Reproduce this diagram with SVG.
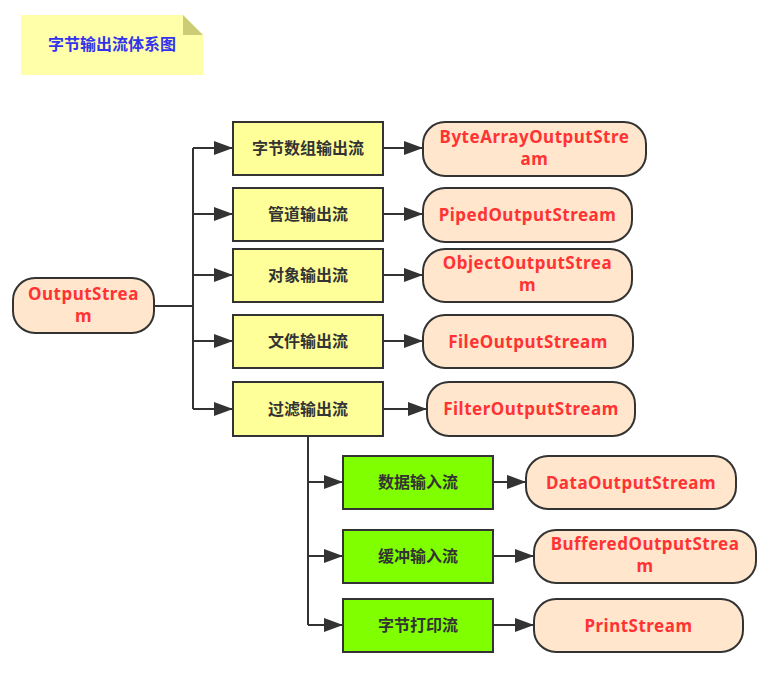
<svg xmlns="http://www.w3.org/2000/svg" width="778" height="681" viewBox="0 0 778 681">
<style>
.box{stroke:#333;stroke-width:2}
.yel{fill:#ffff99}
.grn{fill:#80ff00}
.org{fill:#ffe6cc}
.cn{font-family:"Noto Sans CJK SC","Noto Sans",sans-serif;font-weight:bold;font-size:16px;fill:#333;text-anchor:middle}
.en{font-family:"Noto Sans","Liberation Sans",sans-serif;font-weight:bold;font-size:17px;letter-spacing:0.5px;fill:#ff3333;text-anchor:middle}
.ln{fill:none;stroke:#333;stroke-width:2}
</style>
<defs>
<marker id="ah" markerUnits="userSpaceOnUse" markerWidth="20" markerHeight="14" refX="19" refY="7" orient="auto">
<path d="M0,0 L19,7 L0,14 Z" fill="#333"/>
</marker>
</defs>
<rect width="778" height="681" fill="#fff"/>
<g id="title">
<path d="M21,15 H183 L203,35 V75 H21 Z" fill="#ffffaa"/>
<path d="M183,15 L203,35 H183 Z" fill="#cccc77"/>
<text x="112" y="50" style="font-family:'Noto Sans CJK SC',sans-serif;font-weight:bold;font-size:16px;fill:#3333ee;text-anchor:middle">字节输出流体系图</text>
</g>
<g id="connectors">
<path class="ln" d="M154,306 H193"/>
<path class="ln" d="M193,148 V409"/>
<path class="ln" d="M193,148 H233" marker-end="url(#ah)"/>
<path class="ln" d="M193,214 H233" marker-end="url(#ah)"/>
<path class="ln" d="M193,275 H233" marker-end="url(#ah)"/>
<path class="ln" d="M193,341 H233" marker-end="url(#ah)"/>
<path class="ln" d="M193,409 H233" marker-end="url(#ah)"/>
<path class="ln" d="M383,148 H423" marker-end="url(#ah)"/>
<path class="ln" d="M383,214 H423" marker-end="url(#ah)"/>
<path class="ln" d="M383,275 H423" marker-end="url(#ah)"/>
<path class="ln" d="M383,341 H423" marker-end="url(#ah)"/>
<path class="ln" d="M383,409 H427" marker-end="url(#ah)"/>
<path class="ln" d="M308,436 V625"/>
<path class="ln" d="M308,482 H343" marker-end="url(#ah)"/>
<path class="ln" d="M308,556 H343" marker-end="url(#ah)"/>
<path class="ln" d="M308,625 H343" marker-end="url(#ah)"/>
<path class="ln" d="M493,482 H526" marker-end="url(#ah)"/>
<path class="ln" d="M493,556 H534" marker-end="url(#ah)"/>
<path class="ln" d="M493,625 H534" marker-end="url(#ah)"/>
</g>
<g id="root">
<rect class="box org" x="13" y="278" width="141" height="55" rx="22"/>
<text class="en" x="83.5" y="300">OutputStrea<tspan x="83.5" y="322">m</tspan></text>
</g>
<g id="n1">
<rect class="box yel" x="233" y="122" width="150" height="53"/>
<text class="cn" x="308" y="154">字节数组输出流</text>
</g>
<g id="n2">
<rect class="box yel" x="233" y="188" width="150" height="53"/>
<text class="cn" x="308" y="220">管道输出流</text>
</g>
<g id="n3">
<rect class="box yel" x="233" y="249" width="150" height="53"/>
<text class="cn" x="308" y="281">对象输出流</text>
</g>
<g id="n4">
<rect class="box yel" x="233" y="315" width="150" height="53"/>
<text class="cn" x="308" y="347">文件输出流</text>
</g>
<g id="n5">
<rect class="box yel" x="233" y="382" width="150" height="54"/>
<text class="cn" x="308" y="415">过滤输出流</text>
</g>
<g id="c1">
<rect class="box org" x="423" y="122" width="223" height="54" rx="22"/>
<text class="en" x="534.5" y="143">ByteArrayOutputStre<tspan x="534.5" y="165">am</tspan></text>
</g>
<g id="c2">
<rect class="box org" x="423" y="188" width="209" height="54" rx="22"/>
<text class="en" x="527.5" y="221">PipedOutputStream</text>
</g>
<g id="c3">
<rect class="box org" x="423" y="249" width="209" height="53" rx="22"/>
<text class="en" x="527.5" y="269">ObjectOutputStrea<tspan x="527.5" y="291">m</tspan></text>
</g>
<g id="c4">
<rect class="box org" x="423" y="315" width="210" height="53" rx="22"/>
<text class="en" x="528" y="348">FileOutputStream</text>
</g>
<g id="c5">
<rect class="box org" x="427" y="382" width="208" height="54" rx="22"/>
<text class="en" x="531" y="415">FilterOutputStream</text>
</g>
<g id="g1">
<rect class="box grn" x="343" y="456" width="150" height="53"/>
<text class="cn" x="418" y="488">数据输入流</text>
</g>
<g id="g2">
<rect class="box grn" x="343" y="530" width="150" height="53"/>
<text class="cn" x="418" y="562">缓冲输入流</text>
</g>
<g id="g3">
<rect class="box grn" x="343" y="599" width="150" height="53"/>
<text class="cn" x="418" y="631">字节打印流</text>
</g>
<g id="d1">
<rect class="box org" x="526" y="456" width="210" height="53" rx="22"/>
<text class="en" x="631" y="489">DataOutputStream</text>
</g>
<g id="d2">
<rect class="box org" x="534" y="530" width="222" height="53" rx="22"/>
<text class="en" x="645" y="550">BufferedOutputStrea<tspan x="645" y="572">m</tspan></text>
</g>
<g id="d3">
<rect class="box org" x="534" y="599" width="209" height="53" rx="22"/>
<text class="en" x="638.5" y="632">PrintStream</text>
</g>
</svg>
